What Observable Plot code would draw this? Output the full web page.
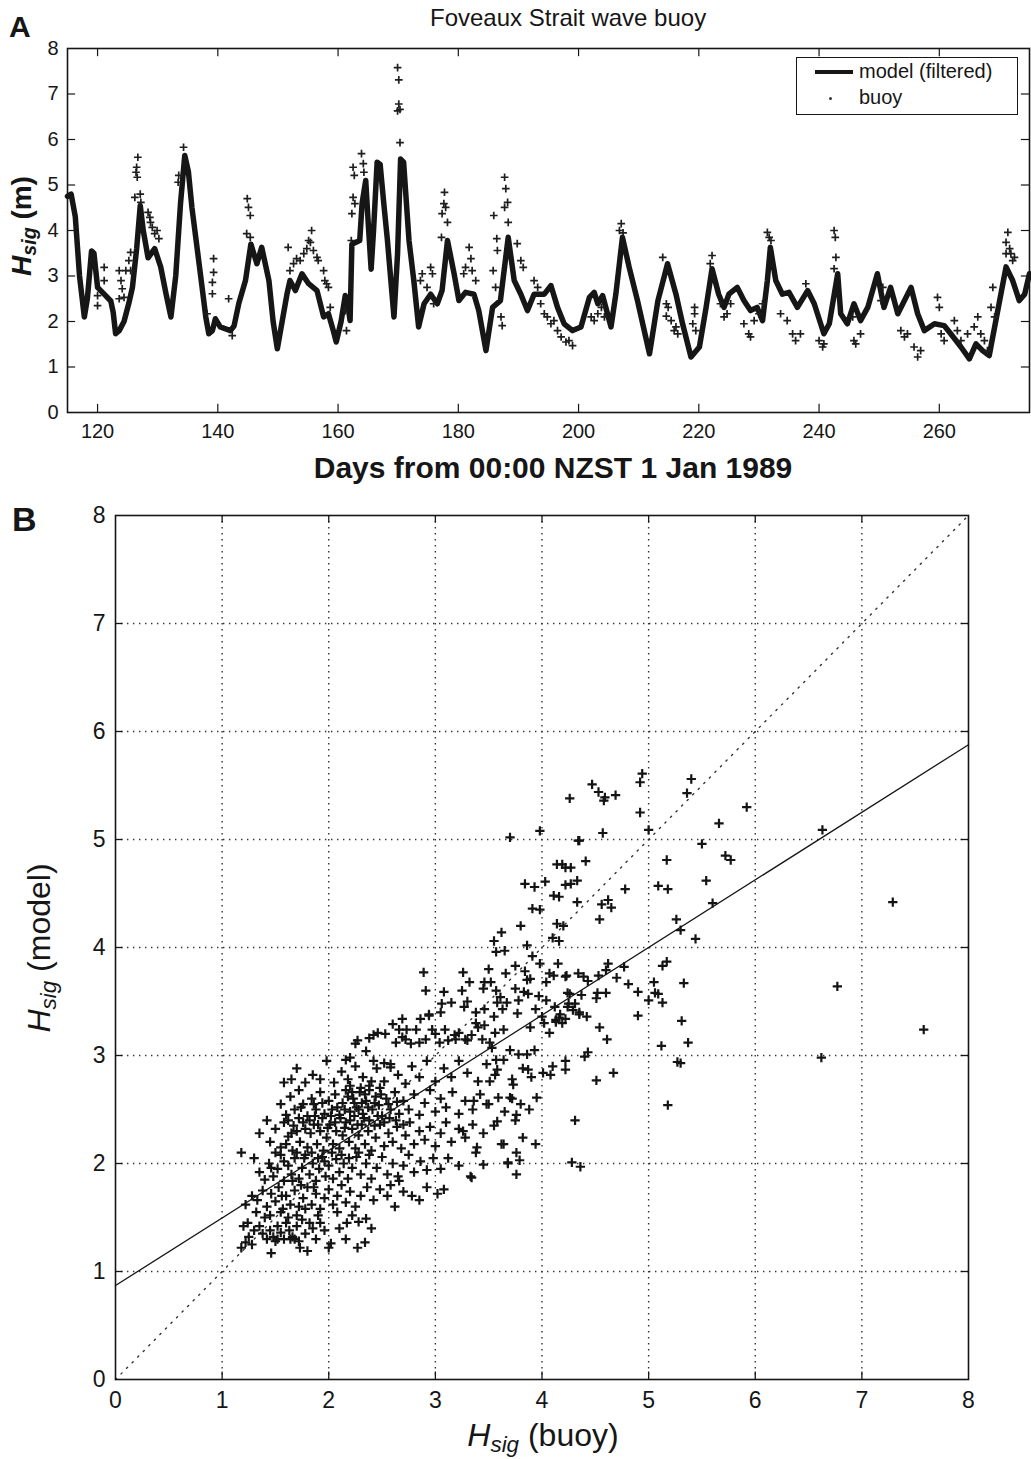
<!DOCTYPE html>
<html><head><meta charset="utf-8">
<script src="https://cdn.jsdelivr.net/npm/d3@7"></script>
<script src="https://cdn.jsdelivr.net/npm/@observablehq/plot@0.6"></script>
<style>
body{margin:0;background:#fff;}
#wrap{position:relative;width:1031px;height:1459px;font-family:"Liberation Sans",Arial,sans-serif;color:#161616;overflow:hidden;}
.abs{position:absolute;white-space:nowrap;line-height:1;}
.rot{transform:translate(-50%,-50%) rotate(-90deg);}
#plotA{position:absolute;left:0;top:0;}
#plotB{position:absolute;left:0;top:490px;}
sub{font-size:70%;vertical-align:-0.28em;}
</style></head><body>
<div id="wrap">
  <div id="plotA"></div>
  <div id="plotB"></div>
  <div class="abs" style="left:9px;top:12px;font-size:30px;font-weight:bold;">A</div>
  <div class="abs" style="left:430px;top:6px;font-size:24px;">Foveaux Strait wave buoy</div>
  <div class="abs rot" style="left:24px;top:226px;font-size:28px;font-weight:bold;"><i>H<sub>sig</sub></i> (m)</div>
  <div class="abs" style="left:553px;top:468px;transform:translate(-50%,-50%);font-size:30px;font-weight:bold;">Days from 00:00 NZST 1 Jan 1989</div>
  <div class="abs" style="left:796px;top:57px;width:220px;height:56px;border:1.5px solid #161616;background:#fff;"></div>
  <div class="abs" style="left:815px;top:70px;width:38px;height:4px;background:#161616;"></div>
  <div class="abs" style="left:829px;top:97px;width:3px;height:3px;background:#333;border-radius:50%;"></div>
  <div class="abs" style="left:859px;top:61px;font-size:20px;">model (filtered)</div>
  <div class="abs" style="left:859px;top:87px;font-size:20px;">buoy</div>
  <div class="abs" style="left:12px;top:502px;font-size:34px;font-weight:bold;">B</div>
  <div class="abs rot" style="left:42px;top:948px;font-size:32px;"><i>H<sub>sig</sub></i> (model)</div>
  <div class="abs" style="left:543px;top:1438px;transform:translate(-50%,-50%);font-size:32px;"><i>H<sub>sig</sub></i> (buoy)</div>
</div>
<script>
// ---------- Panel A data ----------
const xTicksA = [120, 140, 160, 180, 200, 220, 240, 260];
const yTicksA = [0, 1, 2, 3, 4, 5, 6, 7, 8];
const dayDomain = [115, 275];
// model (filtered) Hsig, [day, m]
const model = [[115,4.75],[115.6,4.8],[116.3,4.3],[117,3.0],[117.8,2.1],[118.3,2.5],[119,3.55],[119.4,3.5],[120,2.75],[121.1,2.6],[122.2,2.45],[122.6,2.2],[123,1.73],[123.6,1.8],[124.4,2.0],[125.2,2.4],[125.8,2.75],[126.5,3.6],[127.1,4.55],[127.6,4.0],[128.4,3.4],[129.5,3.6],[130.5,3.2],[131.4,2.6],[132.2,2.1],[133,3.0],[133.8,4.6],[134.5,5.65],[135.1,5.3],[135.7,4.5],[137.1,3.05],[138,2.1],[138.5,1.73],[139.1,1.8],[139.6,2.06],[140.4,1.88],[142.1,1.8],[142.7,1.9],[143.5,2.4],[144.6,2.9],[145.5,3.7],[146.5,3.27],[147.3,3.63],[148.5,2.9],[149.2,2.0],[149.9,1.4],[150.7,2.0],[151.5,2.6],[152,2.9],[152.9,2.68],[154,3.05],[155.1,2.83],[156.5,2.68],[157.6,2.1],[158.4,2.17],[159.2,1.8],[159.7,1.55],[160.5,2.0],[161.2,2.57],[161.7,2.3],[162,2.02],[162.3,3.7],[163.6,3.78],[164,4.6],[164.6,5.1],[165.0,4.2],[165.5,3.15],[165.9,4.0],[166.5,5.5],[167,5.45],[167.6,4.6],[168.2,3.8],[169.3,2.1],[169.9,3.5],[170.4,5.57],[170.9,5.5],[171.8,3.78],[172.6,2.9],[173.4,1.88],[174.3,2.39],[175.4,2.6],[176.5,2.39],[177.3,2.68],[178.2,3.78],[179.3,3.05],[180.1,2.46],[181.2,2.64],[182.6,2.6],[183.4,2.24],[184.6,1.36],[185.7,2.31],[187,2.46],[188.3,3.85],[189.3,2.9],[190.4,2.6],[191.5,2.24],[192.6,2.6],[194.3,2.6],[195.4,2.79],[196.5,2.31],[197.6,1.95],[199,1.8],[200.4,1.88],[201.8,2.53],[202.6,2.64],[203.2,2.39],[204,2.57],[205.4,1.88],[206.2,2.6],[207.3,3.85],[208.4,3.2],[209.8,2.46],[211.8,1.29],[213.2,2.46],[214.8,3.27],[216.2,2.6],[217.3,1.95],[218.7,1.22],[220.1,1.44],[221.2,2.3],[222.2,3.16],[223.3,2.6],[224.2,2.31],[225,2.6],[226.4,2.75],[227.5,2.46],[228.6,2.24],[229.7,2.31],[230.6,2.02],[231.4,2.9],[231.9,3.63],[232.8,2.9],[233.9,2.6],[235,2.64],[236.4,2.31],[238.1,2.68],[239.2,2.39],[240.8,1.73],[241.7,1.95],[243.1,3.05],[243.6,2.17],[244.7,1.95],[245.8,2.39],[246.9,2.02],[248.1,2.31],[249.7,3.05],[250.8,2.31],[251.9,2.75],[253.1,2.17],[255.3,2.75],[256.4,2.17],[257.5,1.8],[259.2,1.95],[260.8,1.91],[261.9,1.73],[263.6,1.44],[265,1.18],[266.1,1.51],[267.2,1.36],[268.3,1.25],[269.2,1.88],[271.1,3.2],[272.2,2.9],[273.3,2.46],[274.2,2.6],[275,3.05]];
// buoy Hsig, [day, m]
const buoy = [[120,2.57],[120,2.35],[121.1,3.19],[121.1,2.9],[123.6,3.12],[123.9,2.9],[124.1,2.72],[124.4,2.53],[123.6,2.5],[124.7,3.12],[125.2,3.34],[125.5,3.12],[125.5,3.52],[126.2,4.73],[126.4,5.28],[126.5,5.39],[126.7,5.61],[126.6,5.17],[127.1,4.8],[127.2,4.62],[128.4,4.4],[128.7,4.29],[129.1,4.07],[129.5,3.93],[129.9,4.0],[130.2,3.82],[128.8,4.18],[133.4,5.06],[133.5,5.21],[134.3,5.83],[139.3,3.38],[139.3,3.08],[139.1,2.86],[139.1,2.61],[138.2,2.17],[142.4,1.69],[141.8,2.5],[144.9,4.7],[145.1,4.51],[145.4,4.33],[144.8,3.93],[145.4,3.85],[151.7,3.63],[152,3.12],[152.6,3.27],[153.1,3.38],[153.7,3.34],[154.3,3.49],[154.8,3.6],[155.1,3.78],[155.4,3.74],[155.6,4.0],[155.9,3.56],[156.5,3.41],[156.7,3.34],[157.6,3.12],[157.8,2.9],[158.1,2.83],[158.4,2.75],[158.7,2.31],[161.2,2.24],[161.4,1.8],[162.5,5.39],[162.7,5.21],[162.5,4.73],[162.3,4.37],[162.8,4.59],[162.2,3.78],[163.9,5.69],[164.2,5.47],[164.3,5.28],[169.9,7.58],[170.1,7.31],[170.1,6.78],[169.9,6.63],[170.3,6.66],[170.3,5.93],[173.7,2.9],[174,3.05],[174.8,2.75],[175.4,3.19],[175.7,3.05],[175.9,2.39],[177.2,3.85],[177.3,4.37],[177.6,4.59],[177.7,4.84],[177.9,4.51],[178.2,4.18],[181.8,3.63],[182.1,3.38],[181.2,3.19],[180.9,3.05],[182.3,3.12],[182.9,2.9],[185.9,4.33],[186.4,3.82],[186.5,3.56],[185.8,3.12],[186.2,2.75],[187.1,2.1],[187.3,1.91],[187.7,5.17],[187.9,4.92],[188.2,4.62],[187.7,4.51],[188.3,4.18],[189.8,3.71],[190.4,3.34],[190.8,3.19],[192.6,2.9],[193.2,2.75],[193.7,2.39],[194.3,2.17],[194.8,2.1],[195.4,1.95],[195.9,2.02],[196.5,1.8],[197.1,1.66],[197.9,1.55],[198.4,1.58],[199,1.47],[202.1,2.1],[202.6,2.02],[203.2,2.17],[203.8,2.31],[204.3,2.1],[207.1,4.15],[206.8,4.0],[207.4,3.95],[214,3.41],[214.6,2.39],[214.9,2.31],[215.4,2.02],[215.9,1.8],[216.2,1.88],[216.5,1.73],[214.6,2.12],[219.3,2.31],[219.3,2.17],[219,1.95],[219.5,1.8],[222.2,3.45],[221.9,3.27],[223.6,2.39],[224.2,2.1],[224.7,2.17],[225.3,2.39],[227.5,1.95],[228.3,1.73],[228.6,1.66],[229.2,2.02],[230,2.17],[230.6,2.39],[231.4,3.96],[231.7,3.85],[232,3.78],[233.6,2.17],[234.7,2.02],[235.6,1.73],[236.1,1.58],[236.9,1.73],[237.8,2.83],[240,1.58],[240.6,1.44],[240.8,1.51],[242.5,4.0],[242.7,3.85],[242.8,3.41],[242.5,3.16],[245.6,2.1],[245.8,1.58],[246.1,1.51],[246.9,1.73],[250.3,2.46],[250.6,2.75],[253.6,1.8],[254.2,1.66],[254.7,1.73],[255.8,1.44],[256.4,1.22],[256.9,1.36],[259.7,2.53],[260,2.31],[260.3,1.73],[260.8,1.58],[262.5,2.02],[263,1.8],[263.6,1.58],[264.7,1.73],[265.8,1.88],[266.4,2.1],[266.9,1.73],[267.5,1.58],[268,1.36],[268.9,2.75],[268.6,2.31],[269.2,2.1],[271.4,3.96],[271.1,3.74],[271.7,3.6],[271.9,3.49],[272.2,3.34],[272.5,3.41],[271.1,3.49]];

// ---------- Panel B data ----------
const ticksB = [0, 1, 2, 3, 4, 5, 6, 7, 8];
const gridB = [1, 2, 3, 4, 5, 6, 7];
const fitIntercept = 0.87;
const fitSlope = 0.626;
// [Hsig buoy, Hsig model]
const scatter = [
[1.18,1.22],[1.22,1.27],[1.25,1.32],[1.28,1.25],[1.20,1.42],[1.24,1.45],[1.30,1.38],[1.35,1.42],[1.38,1.35],[1.42,1.30],[1.45,1.38],[1.48,1.32],[1.50,1.28],[1.52,1.42],[1.55,1.36],[1.58,1.30],[1.60,1.45],[1.63,1.38],[1.66,1.32],[1.70,1.42],[1.72,1.28],[1.75,1.48],[1.78,1.35],[1.82,1.45],[1.85,1.40],[1.88,1.30],[1.92,1.45],[1.96,1.38],[2.00,1.22],[2.02,1.26],[1.80,1.19],[1.73,1.22],[1.46,1.17],[2.10,1.40],[2.16,1.30],[2.27,1.22],[2.34,1.27],[2.28,1.46],[2.35,1.49],[2.40,1.40],[2.17,1.45],[2.22,1.52],[2.08,1.55],[1.62,1.50],[1.40,1.50],[1.32,1.55],[1.52,1.30],[1.64,1.30],[1.68,1.30],
[1.22,1.62],[1.28,1.70],[1.33,1.66],[1.38,1.75],[1.42,1.60],[1.46,1.72],[1.50,1.65],[1.53,1.78],[1.57,1.58],[1.60,1.70],[1.64,1.62],[1.68,1.75],[1.72,1.60],[1.76,1.68],[1.80,1.78],[1.84,1.62],[1.88,1.72],[1.92,1.58],[1.96,1.68],[2.00,1.76],[2.04,1.62],[2.08,1.70],[2.12,1.80],[2.16,1.64],[2.20,1.74],[2.25,1.60],[2.30,1.70],[2.36,1.78],[2.42,1.66],[2.48,1.76],[2.55,1.70],[2.62,1.60],[2.70,1.74],[2.78,1.70],[2.85,1.66],[2.58,1.80],[2.66,1.84],[2.92,1.78],[3.02,1.72],[3.08,1.76],
[1.30,2.05],[1.35,1.92],[1.40,1.85],[1.44,2.00],[1.48,1.88],[1.52,1.95],[1.55,2.08],[1.58,1.84],[1.62,1.98],[1.65,1.90],[1.68,2.05],[1.72,1.86],[1.75,1.96],[1.78,2.08],[1.82,1.90],[1.85,2.00],[1.88,1.84],[1.91,1.95],[1.94,2.06],[1.97,1.88],[2.00,1.98],[2.04,1.86],[2.07,2.04],[2.10,1.92],[2.14,2.00],[2.18,1.86],[2.22,1.96],[2.26,2.06],[2.30,1.90],[2.35,2.00],[2.40,1.86],[2.45,1.96],[2.50,2.06],[2.55,1.90],[2.60,2.00],[2.65,1.88],[2.70,1.98],[2.75,2.08],[2.80,1.92],[2.86,2.02],[2.92,1.94],[2.98,2.05],[3.05,1.95],[3.12,2.05],[3.22,1.98],[3.34,1.87],[3.45,1.99],[3.68,2.01],[3.76,1.90],[3.76,2.10],[3.68,2.00],[3.33,1.88],[3.38,2.10],[1.18,2.10],[3.79,2.03],
[1.35,2.28],[1.45,2.20],[1.50,2.32],[1.55,2.15],[1.58,2.38],[1.62,2.25],[1.66,2.12],[1.70,2.30],[1.73,2.20],[1.76,2.38],[1.80,2.15],[1.83,2.28],[1.86,2.36],[1.89,2.18],[1.92,2.30],[1.95,2.12],[1.98,2.24],[2.01,2.36],[2.04,2.18],[2.07,2.30],[2.10,2.14],[2.13,2.26],[2.16,2.38],[2.19,2.20],[2.22,2.32],[2.25,2.14],[2.28,2.26],[2.31,2.36],[2.34,2.18],[2.37,2.30],[2.40,2.12],[2.44,2.24],[2.48,2.36],[2.52,2.16],[2.56,2.28],[2.60,2.20],[2.64,2.34],[2.68,2.14],[2.72,2.26],[2.76,2.38],[2.80,2.18],[2.85,2.30],[2.90,2.22],[2.95,2.34],[3.00,2.16],[3.05,2.28],[3.10,2.38],[3.15,2.20],[3.22,2.32],[3.28,2.24],[3.35,2.36],[3.45,2.28],[3.55,2.35],[3.62,2.18],[3.75,2.40],[1.42,2.40],[3.64,2.18],[3.82,2.24],[3.94,2.18],[3.26,2.30],[3.39,2.15],
[1.55,2.55],[1.60,2.45],[1.64,2.62],[1.68,2.50],[1.72,2.68],[1.76,2.55],[1.80,2.44],[1.84,2.60],[1.88,2.50],[1.92,2.66],[1.96,2.46],[2.00,2.58],[2.03,2.50],[2.06,2.64],[2.10,2.45],[2.13,2.56],[2.16,2.68],[2.20,2.48],[2.23,2.60],[2.26,2.52],[2.29,2.66],[2.32,2.46],[2.35,2.58],[2.38,2.68],[2.41,2.50],[2.44,2.62],[2.47,2.54],[2.50,2.44],[2.54,2.60],[2.58,2.50],[2.62,2.66],[2.66,2.46],[2.70,2.58],[2.75,2.50],[2.80,2.64],[2.85,2.45],[2.90,2.56],[2.95,2.68],[3.00,2.48],[3.05,2.60],[3.10,2.52],[3.16,2.66],[3.22,2.46],[3.28,2.58],[3.35,2.50],[3.42,2.64],[3.50,2.55],[3.58,2.39],[3.65,2.48],[3.72,2.60],[3.80,2.55],[3.88,2.50],[2.24,2.56],[2.34,2.64],[2.28,2.50],[2.18,2.62],[3.59,2.61],[3.95,2.61],[3.76,2.45],[3.36,2.58],[3.48,2.55],[3.70,2.61],
[1.62,2.40],[1.67,2.35],[1.72,2.42],[1.78,2.32],[1.82,2.40],[1.87,2.44],[1.90,2.36],[1.94,2.42],[1.99,2.33],[2.02,2.44],[2.06,2.38],[2.11,2.42],[2.15,2.33],[2.20,2.40],[2.24,2.44],[2.27,2.36],[2.33,2.42],[2.38,2.40],[2.43,2.35],[2.46,2.44],[2.52,2.38],[2.57,2.42],[2.63,2.40],[2.70,2.36],[1.70,2.10],[1.77,2.05],[1.84,2.10],[1.90,2.05],[1.96,2.02],[2.03,2.10],[2.12,2.08],[2.19,2.05],[2.28,2.10],[2.38,2.08],[1.74,2.52],[1.86,2.55],[1.94,2.56],[2.08,2.52],[2.15,2.50],[2.22,2.66],[2.31,2.56],[2.37,2.52],[2.43,2.56],[2.49,2.64],[2.56,2.55],[2.64,2.57],[2.20,2.72],[2.30,2.70],[2.40,2.76],[2.48,2.70],[1.60,2.18],[1.65,2.28],[1.58,2.02],[1.50,2.10],[1.46,1.96],[1.56,1.70],[1.66,1.84],[1.74,1.80],[1.86,1.78],[1.45,1.52],[1.55,1.55],[1.70,1.52],[1.78,1.58],[1.90,1.52],
[1.58,2.75],[1.65,2.78],[1.70,2.88],[1.78,2.75],[1.85,2.82],[1.92,2.78],[1.98,2.95],[2.05,2.75],[2.12,2.85],[2.18,2.78],[2.25,2.90],[2.32,2.80],[2.38,2.72],[2.45,2.88],[2.52,2.76],[2.58,2.92],[2.65,2.82],[2.72,2.74],[2.78,2.90],[2.85,2.80],[2.92,2.95],[3.00,2.76],[3.08,2.88],[3.15,2.80],[3.22,2.95],[3.30,2.84],[3.40,2.76],[3.48,2.92],[3.56,2.82],[3.64,2.96],[3.72,2.78],[3.82,2.88],[3.90,2.80],[2.42,2.95],[2.20,2.98],[3.51,2.76],[3.73,2.73],[3.57,2.96],[3.58,2.87],[3.87,2.87],[2.16,2.96],[2.52,2.93],[2.58,2.89],
[2.25,3.11],[2.27,3.14],[2.42,3.19],[2.53,3.20],[2.60,3.29],[2.69,3.17],[2.77,3.11],[2.86,3.34],[2.94,3.37],[3.00,3.20],[3.06,3.48],[3.12,3.14],[3.18,3.19],[3.27,3.45],[3.30,3.14],[3.40,3.26],[3.46,3.43],[3.55,3.36],[3.64,3.24],[3.77,3.39],[3.89,3.26],[3.53,3.07],[2.35,3.04],[2.46,3.21],[2.38,3.16],[2.63,3.12],[2.72,3.15],[2.85,3.12],[2.91,3.15],[2.97,3.24],[3.04,3.12],[3.09,3.24],[3.19,3.15],[3.22,3.21],[3.28,3.15],[3.34,3.19],[3.38,3.30],[3.44,3.15],[3.51,3.12],[3.56,3.21],[3.70,3.05],[3.78,3.01],[3.86,3.01],[3.93,3.05],[2.69,3.34],[2.73,3.24],[2.82,3.24],[2.66,3.24],[2.94,3.38],[3.05,3.40],[3.15,3.49],[3.46,3.28],[3.38,3.40],[3.30,3.50],[3.63,3.43],
[2.89,3.77],[2.91,3.60],[3.08,3.59],[3.25,3.60],[3.26,3.77],[3.32,3.68],[3.45,3.62],[3.46,3.68],[3.52,3.68],[3.50,3.80],[3.57,3.60],[3.61,3.54],[3.58,3.49],[3.67,3.49],[3.66,3.76],[3.75,3.62],[3.75,3.83],[3.78,3.51],[3.83,3.59],[3.84,3.78],[3.86,3.70],[3.89,3.71],[3.87,3.57],[3.94,3.43],[3.97,3.55],[3.55,4.06],[3.57,3.96],[3.65,3.97],[3.62,4.14],[3.80,4.20],[3.86,4.02],[3.91,3.92],[3.98,3.85],[3.91,4.36],[3.98,4.35],[3.84,4.59],[3.93,4.56],[4.03,4.61],[3.70,5.02],[3.98,5.08],
[4.04,3.51],[4.13,3.33],[4.17,3.38],[4.24,3.45],[4.29,3.42],[4.35,3.38],[4.26,3.57],[4.04,3.68],[4.07,3.76],[4.15,3.85],[4.22,3.73],[4.34,3.76],[4.16,4.06],[4.20,4.20],[4.16,4.47],[4.27,4.59],[4.19,4.77],[4.27,4.74],[4.34,4.99],[4.26,5.38],[4.02,3.30],[4.07,3.21],[4.00,3.36],[4.19,3.30],[4.22,3.34],[4.31,3.48],[4.40,2.99],[4.01,2.84],[4.10,2.90],[4.22,2.87],
[4.94,5.61],[4.92,5.53],[4.47,5.51],[4.53,5.44],[4.58,5.36],[4.59,5.39],[4.69,5.41],[4.92,5.25],[5.00,5.09],[5.40,5.56],[5.36,5.43],[5.92,5.30],[5.66,5.15],[4.57,5.06],[4.35,4.99],[5.50,4.96],[5.17,4.81],[5.72,4.85],[5.77,4.81],[4.14,4.77],[4.22,4.74],[4.41,4.80],[4.33,4.62],[4.22,4.58],[5.54,4.62],[5.09,4.57],[5.18,4.54],[4.78,4.54],[4.11,4.48],[4.33,4.42],[4.56,4.40],[4.62,4.44],[4.65,4.37],[4.14,4.22],[4.54,4.26],[5.26,4.26],[5.30,4.16],[5.44,4.08],[5.60,4.41],[4.10,4.09],
[4.11,3.74],[4.23,3.74],[4.39,3.73],[4.43,3.69],[4.53,3.74],[4.60,3.79],[4.62,3.85],[4.77,3.82],[4.70,3.72],[4.81,3.66],[4.90,3.59],[5.05,3.68],[5.13,3.83],[5.17,3.87],[5.33,3.67],[5.06,3.58],[5.09,3.57],[5.13,3.49],[5.00,3.51],[4.90,3.37],[5.31,3.32],[5.37,3.12],[5.12,3.09],[5.27,2.94],[4.61,3.15],[4.54,3.26],[4.43,3.03],[4.22,2.95],[4.08,2.82],[4.51,2.77],[4.67,2.84],[4.24,3.58],[4.37,3.56],[4.52,3.58],[4.60,3.58],[4.51,3.53],[4.16,3.35],[4.13,3.31],[4.25,3.48],[4.35,3.40],[4.42,3.36],[4.12,3.45],
[4.31,2.40],[4.28,2.01],[4.36,1.97],[5.18,2.54],[5.30,2.93],
[6.63,5.09],[7.29,4.42],[6.77,3.64],[7.58,3.24],[6.62,2.98]
];

const font = '"Liberation Sans", Arial, sans-serif';
const ink = "#161616";

const plotA = Plot.plot({
  width: 1031, height: 490,
  marginLeft: 67, marginRight: 2, marginTop: 48, marginBottom: 78,
  x: {domain: dayDomain},
  y: {domain: [yTicksA[0], yTicksA[yTicksA.length - 1]]},
  style: {fontFamily: font, fontSize: "20px", color: ink, background: "transparent", overflow: "visible"},
  marks: [
    Plot.line(model, {x: d => d[0], y: d => d[1], stroke: ink, strokeWidth: 5.5, strokeLinejoin: "round"}),
    Plot.dot(buoy, {x: d => d[0], y: d => d[1], symbol: "plus", r: 2.6, stroke: "#1e1e1e", strokeWidth: 1.7}),
    Plot.ruleX(xTicksA, {x: d => d, y1: 0, y2: 0.18, stroke: ink, strokeWidth: 1.2}),
    Plot.ruleX(xTicksA, {x: d => d, y1: 8, y2: 7.82, stroke: ink, strokeWidth: 1.2}),
    Plot.ruleY(yTicksA.slice(1, -1), {y: d => d, x1: 115, x2: 116.35, stroke: ink, strokeWidth: 1.2}),
    Plot.ruleY(yTicksA.slice(1, -1), {y: d => d, x1: 275, x2: 273.65, stroke: ink, strokeWidth: 1.2}),
    Plot.frame({stroke: ink, strokeWidth: 1.6}),
    Plot.axisX(xTicksA, {tickSize: 0, tickPadding: 11, label: null, tickFormat: d3.format("d")}),
    Plot.axisY(yTicksA, {tickSize: 0, tickPadding: 9, label: null, tickFormat: d3.format("d")})
  ]
});
document.getElementById("plotA").appendChild(plotA);

const plotB = Plot.plot({
  width: 1031, height: 969,
  marginLeft: 115, marginRight: 63, marginTop: 25, marginBottom: 80,
  x: {domain: [ticksB[0], ticksB[ticksB.length - 1]]},
  y: {domain: [ticksB[0], ticksB[ticksB.length - 1]]},
  style: {fontFamily: font, fontSize: "23px", color: ink, background: "transparent", overflow: "visible"},
  marks: [
    Plot.ruleX(gridB, {x: d => d, stroke: "#333", strokeWidth: 1.4, strokeDasharray: "1.4,4.6"}),
    Plot.ruleY(gridB, {y: d => d, stroke: "#333", strokeWidth: 1.4, strokeDasharray: "1.4,4.6"}),
    Plot.line([ticksB[0], ticksB[ticksB.length - 1]], {x: d => d, y: d => d, stroke: "#333", strokeWidth: 1.4, strokeDasharray: "1.4,6.5"}),
    Plot.line([ticksB[0], ticksB[ticksB.length - 1]], {x: d => d, y: d => fitIntercept + fitSlope * d, stroke: ink, strokeWidth: 1.3}),
    Plot.dot(scatter, {x: d => d[0], y: d => d[1], symbol: "plus", r: 3.1, stroke: "#141414", strokeWidth: 2.2}),
    Plot.ruleX(gridB, {x: d => d, y1: 0, y2: 0.07, stroke: ink, strokeWidth: 1.3}),
    Plot.ruleX(gridB, {x: d => d, y1: 8, y2: 7.93, stroke: ink, strokeWidth: 1.3}),
    Plot.ruleY(gridB, {y: d => d, x1: 0, x2: 0.07, stroke: ink, strokeWidth: 1.3}),
    Plot.ruleY(gridB, {y: d => d, x1: 8, x2: 7.93, stroke: ink, strokeWidth: 1.3}),
    Plot.frame({stroke: ink, strokeWidth: 1.6}),
    Plot.axisX(ticksB, {tickSize: 0, tickPadding: 12, label: null, tickFormat: d3.format("d")}),
    Plot.axisY(ticksB, {tickSize: 0, tickPadding: 10, label: null, tickFormat: d3.format("d")})
  ]
});
document.getElementById("plotB").appendChild(plotB);
</script>
</body></html>
